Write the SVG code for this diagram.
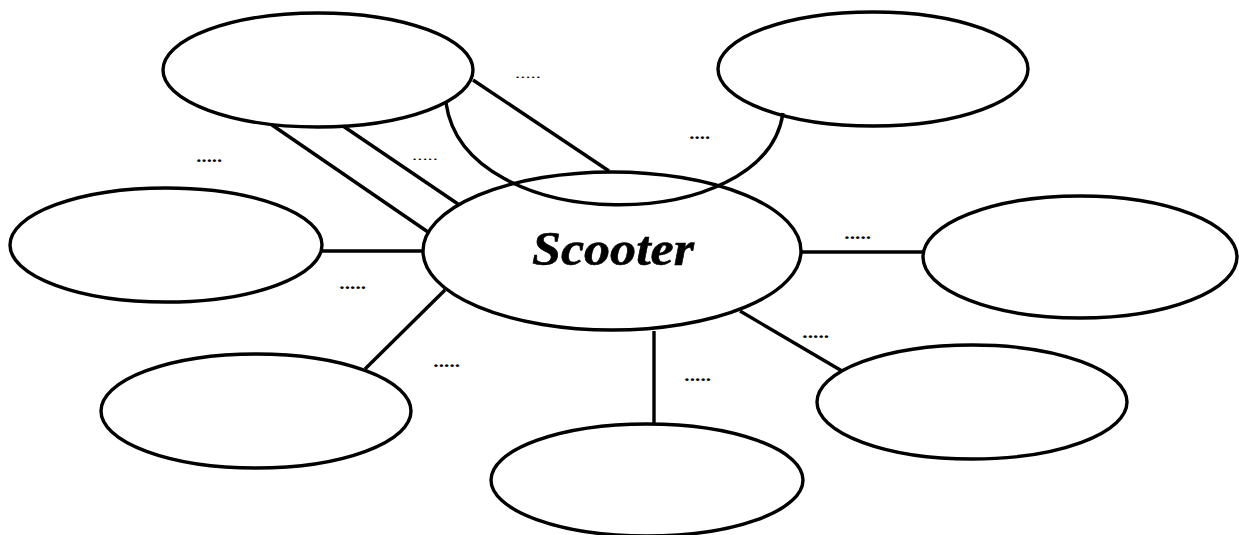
<svg xmlns="http://www.w3.org/2000/svg" width="1239" height="535" viewBox="0 0 1239 535">
<style>
.n{fill:#fff;stroke:#000;stroke-width:3.4}
.c{fill:none;stroke:#000;stroke-width:3.4}
.d{font-family:"Liberation Serif",serif;font-style:italic;font-weight:bold;font-size:16px;fill:#000}
.t{font-family:"Liberation Serif",serif;font-style:italic;font-weight:bold;font-size:48px;fill:#000;stroke:#000;stroke-width:0.6}
</style>
<rect width="1239" height="535" fill="#fff"/>
<g id="node-top-left"><ellipse class="n" cx="318" cy="70" rx="155" ry="57"/></g>
<g id="node-top-right"><ellipse class="n" cx="873" cy="69" rx="155" ry="57"/></g>
<g id="node-left"><ellipse class="n" cx="166" cy="245" rx="156" ry="57"/></g>
<g id="node-right"><ellipse class="n" cx="1080" cy="257" rx="157" ry="61"/></g>
<g id="node-bottom-left"><ellipse class="n" cx="256" cy="411" rx="155" ry="57"/></g>
<g id="node-bottom"><ellipse class="n" cx="647" cy="480" rx="156" ry="56"/></g>
<g id="node-bottom-right"><ellipse class="n" cx="972" cy="402" rx="155" ry="57"/></g>
<g id="node-scooter"><ellipse class="n" cx="612" cy="251" rx="189" ry="79"/>
<text class="t" x="613" y="265" text-anchor="middle" textLength="162" lengthAdjust="spacingAndGlyphs">Scooter</text></g>
<g id="connectors">
<line class="c" x1="272" y1="125" x2="428" y2="232"/>
<line class="c" x1="343" y1="126" x2="458" y2="204"/>
<line class="c" x1="473" y1="80" x2="609" y2="171"/>
<path class="c" d="M446,103 C465,237 765,237 783,113"/>
<line class="c" x1="322" y1="251" x2="423" y2="251"/>
<line class="c" x1="802" y1="252" x2="923" y2="252"/>
<line class="c" x1="445" y1="290" x2="365" y2="369"/>
<line class="c" x1="654" y1="331" x2="654" y2="424"/>
<line class="c" x1="740" y1="311" x2="842" y2="371"/>
</g>
<g id="labels">
<text class="d" x="515" y="78" textLength="26" lengthAdjust="spacingAndGlyphs" style="font-size:12px;font-style:normal;font-weight:normal">.....</text>
<text class="d" x="197" y="162" textLength="26" lengthAdjust="spacingAndGlyphs">.....</text>
<text class="d" x="412" y="160" textLength="26" lengthAdjust="spacingAndGlyphs" style="font-size:12px;font-style:normal;font-weight:normal">.....</text>
<text class="d" x="690" y="139" textLength="21" lengthAdjust="spacingAndGlyphs">....</text>
<text class="d" x="845" y="239" textLength="27" lengthAdjust="spacingAndGlyphs">.....</text>
<text class="d" x="340" y="289" textLength="27" lengthAdjust="spacingAndGlyphs">.....</text>
<text class="d" x="434" y="367" textLength="27" lengthAdjust="spacingAndGlyphs">.....</text>
<text class="d" x="685" y="381" textLength="27" lengthAdjust="spacingAndGlyphs">.....</text>
<text class="d" x="803" y="338" textLength="27" lengthAdjust="spacingAndGlyphs">.....</text>
</g>
</svg>
